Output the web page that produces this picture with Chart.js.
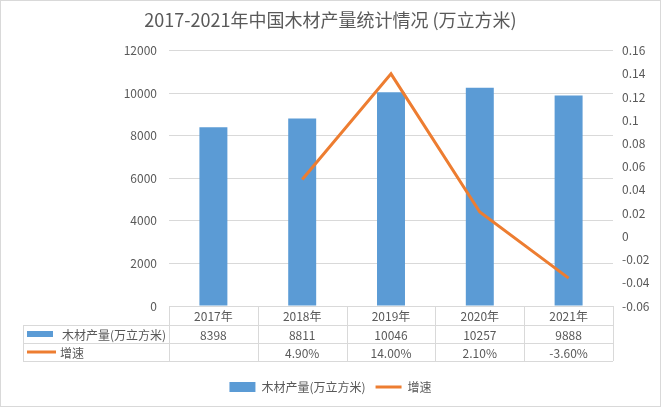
<!DOCTYPE html>
<html>
<head>
<meta charset="utf-8">
<script src="https://cdn.jsdelivr.net/npm/chart.js@4"></script>
<style>
  html, body { margin: 0; padding: 0; background: #ffffff; }
  #wrap { width: 661px; height: 407px; position: relative; }
</style>
</head>
<body>
<div id="wrap"><canvas id="c" width="661" height="407"></canvas></div>
<script>
// ---- data ----
const chartTitle = '2017-2021年中国木材产量统计情况 (万立方米)';
const categories = ['2017年', '2018年', '2019年', '2020年', '2021年'];
const productionName = '木材产量(万立方米)';
const production = [8398, 8811, 10046, 10257, 9888];
const growthName = '增速';
const growth = [null, 0.049, 0.14, 0.021, -0.036];
const leftTicks = [0, 2000, 4000, 6000, 8000, 10000, 12000];
const rightTicks = [-0.06, -0.04, -0.02, 0, 0.02, 0.04, 0.06, 0.08, 0.1, 0.12, 0.14, 0.16];

// ---- styles ----
const FONT = '"Noto Sans CJK SC", "Noto Sans", sans-serif';
const TEXT = '#595959';
const GRID = '#d9d9d9';
const BLUE = '#5B9BD5';
const ORANGE = '#ED7D31';

Chart.defaults.font.family = FONT;
Chart.defaults.color = TEXT;

const tablePlugin = {
  id: 'dataTable',
  afterDraw(chart) {
    const ctx = chart.ctx;
    const a = chart.chartArea;
    const x = chart.scales.x;
    const y0 = a.bottom;
    const r1 = y0 + 19, r2 = r1 + 18, r3 = r2 + 18;
    const tableLeft = 23;
    const n = categories.length;
    const colW = (a.right - a.left) / n;
    ctx.save();
    ctx.strokeStyle = GRID;
    ctx.lineWidth = 1;
    ctx.beginPath();
    // horizontals
    ctx.moveTo(a.left, y0 + 0.5); ctx.lineTo(a.right, y0 + 0.5);
    [r1, r2, r3].forEach(r => { ctx.moveTo(tableLeft, r + 0.5); ctx.lineTo(a.right, r + 0.5); });
    // verticals
    ctx.moveTo(tableLeft + 0.5, r1); ctx.lineTo(tableLeft + 0.5, r3);
    for (let i = 0; i <= n; i++) {
      const xx = Math.round(a.left + i * colW) + 0.5;
      ctx.moveTo(xx, y0); ctx.lineTo(xx, r3);
    }
    ctx.stroke();

    ctx.fillStyle = TEXT;
    ctx.font = '12px ' + FONT;
    ctx.textAlign = 'center';
    ctx.textBaseline = 'middle';
    categories.forEach((c, i) => {
      const cx = x.getPixelForValue(i);
      ctx.fillText(c, cx, (y0 + r1) / 2 + 1);
      ctx.fillText(String(production[i]), cx, (r1 + r2) / 2 + 1);
      if (growth[i] !== null) ctx.fillText((growth[i] * 100).toFixed(2) + '%', cx, (r2 + r3) / 2 + 1);
    });
    // row headers
    ctx.textAlign = 'left';
    ctx.fillStyle = BLUE;
    ctx.fillRect(27, r1 + 6, 26, 6);
    ctx.fillStyle = TEXT;
    ctx.fillText(productionName, 62, (r1 + r2) / 2 + 1);
    ctx.strokeStyle = ORANGE;
    ctx.lineWidth = 3;
    ctx.beginPath();
    ctx.moveTo(27, (r2 + r3) / 2); ctx.lineTo(56, (r2 + r3) / 2);
    ctx.stroke();
    ctx.fillStyle = TEXT;
    ctx.fillText(growthName, 60, (r2 + r3) / 2 + 1);

    // outer border
    ctx.strokeStyle = GRID;
    ctx.lineWidth = 1;
    ctx.strokeRect(0.5, 0.5, chart.width - 1, chart.height - 1);
    ctx.restore();
  }
};

new Chart(document.getElementById('c'), {
  type: 'bar',
  data: {
    labels: categories,
    datasets: [
      {
        type: 'line',
        label: growthName,
        data: growth,
        yAxisID: 'y1',
        borderColor: ORANGE,
        backgroundColor: ORANGE,
        borderWidth: 3,
        pointRadius: 0,
        tension: 0,
        spanGaps: false,
        order: 0
      },
      {
        type: 'bar',
        label: productionName,
        data: production,
        yAxisID: 'y',
        backgroundColor: BLUE,
        barPercentage: 0.315,
        categoryPercentage: 1,
        order: 1
      }
    ]
  },
  options: {
    responsive: false,
    animation: false,
    layout: { padding: { left: 0, right: 0, top: 0, bottom: 4 } },
    plugins: {
      title: {
        display: true,
        text: chartTitle,
        color: TEXT,
        font: { size: 18, weight: 'normal', family: FONT },
        padding: { top: 9, bottom: 20 }
      },
      legend: {
        position: 'bottom',
        labels: {
          usePointStyle: true,
          pointStyleWidth: 26,
          boxHeight: 10,
          padding: 10,
          color: TEXT,
          font: { size: 12, family: FONT },
          generateLabels() {
            return [
              { text: productionName, fillStyle: BLUE, strokeStyle: BLUE, lineWidth: 0, pointStyle: 'rect', hidden: false, datasetIndex: 1, fontColor: TEXT },
              { text: growthName, fillStyle: ORANGE, strokeStyle: ORANGE, lineWidth: 3, pointStyle: 'line', hidden: false, datasetIndex: 0, fontColor: TEXT }
            ];
          }
        }
      },
      tooltip: { enabled: false }
    },
    scales: {
      x: {
        position: 'bottom',
        ticks: { display: false },
        grid: { display: false },
        border: { display: false },
        afterFit(s) { s.height = 65; }
      },
      y: {
        position: 'left',
        min: 0, max: 12000,
        afterBuildTicks(s) { s.ticks = leftTicks.map(v => ({ value: v })); },
        ticks: { padding: 12, color: TEXT, font: { size: 12 }, callback: v => String(v) },
        grid: { color: GRID, drawTicks: false },
        border: { display: false },
        afterFit(s) { s.width = 169; }
      },
      y1: {
        position: 'right',
        min: -0.06, max: 0.16,
        afterBuildTicks(s) { s.ticks = rightTicks.map(v => ({ value: v })); },
        ticks: { padding: 9, color: TEXT, font: { size: 12 }, callback: v => String(parseFloat(Number(v).toFixed(2))) },
        grid: { display: false, drawTicks: false },
        border: { display: false },
        afterFit(s) { s.width = 48; }
      }
    }
  },
  plugins: [tablePlugin]
});
</script>
</body>
</html>
